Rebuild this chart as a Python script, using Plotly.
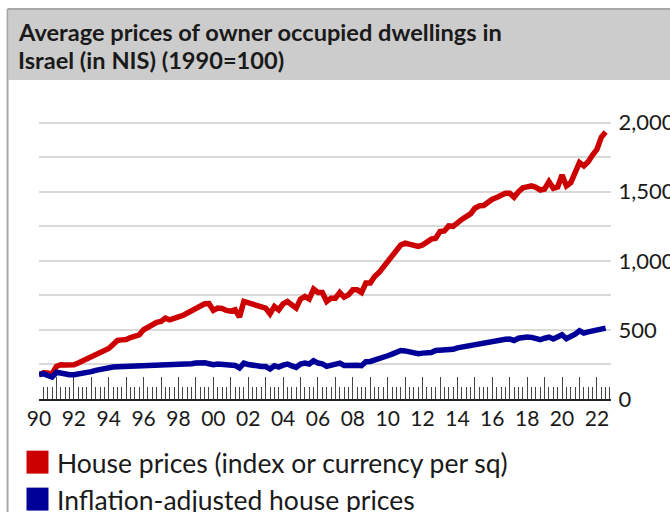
import plotly.graph_objects as go

# ---------------- data (quarterly, 1990Q1 .. 2022Q3) ----------------
start_year = 1990
house_prices = [
    176, 190, 188, 182,      # 1990
    235, 248, 246, 244,      # 1991
    248, 260, 275, 290,      # 1992
    301, 313, 330, 350,      # 1993
    365, 395, 424, 428,      # 1994
    430, 445, 455, 465,      # 1995
    501, 520, 540, 555,      # 1996
    561, 585, 573, 588,      # 1997
    595, 605, 620, 633,      # 1998
    650, 674, 689, 690,      # 1999
    641, 658, 655, 641,      # 2000
    636, 646, 593, 706,      # 2001
    695, 682, 670, 660,      # 2002
    658, 617, 670, 646,      # 2003
    689, 706, 680, 658,      # 2004
    723, 742, 723, 795,      # 2005
    771, 771, 706, 730,      # 2006
    730, 771, 737, 754,      # 2007
    790, 790, 771, 839,      # 2008
    839, 887, 915, 955,      # 2009
    995, 1035, 1070, 1115,   # 2010
    1128, 1121, 1110, 1104,  # 2011
    1114, 1140, 1157, 1164,  # 2012
    1212, 1216, 1253, 1250,  # 2013
    1280, 1300, 1320, 1340,  # 2014
    1381, 1398, 1400, 1425,  # 2015
    1446, 1458, 1477, 1489,  # 2016
    1489, 1460, 1500, 1528,  # 2017
    1535, 1542, 1532, 1513,  # 2018
    1520, 1573, 1525, 1535,  # 2019
    1622, 1542, 1566, 1629,  # 2020
    1711, 1687, 1718, 1766,  # 2021
    1807, 1894, 1932,        # 2022
]
real_prices = [
    176, 183, 170, 159,      # 1990
    193, 185, 173, 175,      # 1991
    176, 180, 188, 193,      # 1992
    198, 207, 215, 220,      # 1993
    224, 231, 233, 234,      # 1994
    236, 236, 236, 238,      # 1995
    243, 245, 247, 248,      # 1996
    248, 248, 248, 250,      # 1997
    253, 250, 248, 255,      # 1998
    260, 265, 262, 255,      # 1999
    248, 253, 248, 243,      # 2000
    243, 243, 224, 260,      # 2001
    250, 243, 240, 236,      # 2002
    236, 217, 241, 231,      # 2003
    245, 253, 240, 229,      # 2004
    253, 260, 253, 277,      # 2005
    260, 255, 236, 245,      # 2006
    248, 260, 243, 245,      # 2007
    248, 245, 241, 270,      # 2008
    272, 280, 289, 305,      # 2009
    313, 325, 337, 351,      # 2010
    348, 341, 332, 328,      # 2011
    332, 335, 337, 351,      # 2012
    351, 355, 358, 360,      # 2013
    370, 376, 386, 392,      # 2014
    400, 403, 405, 415,      # 2015
    424, 427, 429, 432,      # 2016
    434, 424, 440, 446,      # 2017
    448, 446, 440, 429,      # 2018
    440, 448, 434, 455,      # 2019
    465, 436, 448, 470,      # 2020
    494, 477, 486, 494,      # 2021
    506, 510, 513,           # 2022
]
series_names = ["House prices (index or currency per sq)", "Inflation-adjusted house prices"]
series_colors = ["#cc0000", "#000099"]
title_lines = ["Average prices of owner occupied dwellings in", "Israel (in NIS) (1990=100)"]
x_tick_years = list(range(1990, 2023))
x_tick_labels = [f"{y % 100:02d}" if (y - 1990) % 2 == 0 else "" for y in x_tick_years]
y_tick_vals = list(range(0, 2001, 250))
y_tick_labels = [f"{v:,}" if v % 500 == 0 else "" for v in y_tick_vals]

quarters = [start_year + 0.25 * i for i in range(len(house_prices))]
minor_vals = [1990 + 0.25 * i for i in range(0, 132) if i % 4 != 0]

# ---------------- layout geometry ----------------
# the page body margin is removed below, so screen pixel = figure pixel
OFF = 0
W, H = 670, 512
SCR_LEFT, SCR_RIGHT, SCR_TOP, SCR_BOTTOM = 38.5, 611, 110, 399.3
ML = SCR_LEFT - OFF
MR = W - (SCR_RIGHT - OFF)
MT = SCR_TOP - OFF
MB = H - (SCR_BOTTOM - OFF)
PW, PH = W - ML - MR, H - MT - MB
X_RANGE = [1990, 1990 + (SCR_RIGHT - SCR_LEFT) / 17.45]
Y_MAX = 2000 * PH / (SCR_BOTTOM - 122.7)


def px(x):  # screen x -> paper
    return (x - SCR_LEFT) / PW


def py(y):  # screen y -> paper
    return (SCR_BOTTOM - y) / PH


FONT = "Lato, 'Open Sans', sans-serif"

fig = go.Figure()
for vals, name, col in zip([house_prices, real_prices], series_names, series_colors):
    fig.add_trace(go.Scatter(x=quarters, y=vals, name=name, mode="lines",
                             line=dict(color=col, width=5.5), showlegend=False,
                             hoverinfo="skip"))

shapes = [
    # header band
    dict(type="rect", xref="paper", yref="paper", x0=px(8), x1=px(700), y0=py(80), y1=py(9),
         fillcolor="#cccccc", line=dict(width=0), layer="below"),
    dict(type="line", xref="paper", yref="paper", x0=px(7), x1=px(700), y0=py(9), y1=py(9),
         line=dict(color="#a8a8a8", width=2)),
    dict(type="line", xref="paper", yref="paper", x0=px(7), x1=px(7), y0=py(9), y1=py(540),
         line=dict(color="#a8a8a8", width=2)),
]
annotations = []
for line, yc in zip(title_lines, [31.5, 60]):
    annotations.append(dict(text="<b>" + line + "</b>", xref="paper", yref="paper",
                            x=px(15), y=py(yc), xanchor="left", yanchor="middle", align="left",
                            showarrow=False, font=dict(family=FONT, size=23.6, color="#1a1a1a")))
legend_top = [451, 488]
for i, (name, col) in enumerate(zip(series_names, series_colors)):
    t = legend_top[i]
    shapes.append(dict(type="rect", xref="paper", yref="paper", x0=px(26), x1=px(48),
                       y0=py(t + 23), y1=py(t), fillcolor=col, line=dict(width=0)))
    annotations.append(dict(text=name, xref="paper", yref="paper", x=px(55), y=py(t + 12.5),
                            xanchor="left", yanchor="middle", showarrow=False,
                            font=dict(family=FONT, size=26.5, color="#1a1a1a")))

fig.update_layout(
    width=W, height=H, autosize=False,
    margin=dict(l=ML, r=MR, t=MT, b=MB, pad=0, autoexpand=False),
    paper_bgcolor="white", plot_bgcolor="white",
    font=dict(family=FONT, size=20, color="#1a1a1a"),
    shapes=shapes, annotations=annotations,
    showlegend=False,
    xaxis=dict(range=X_RANGE, tickmode="array", tickvals=x_tick_years, ticktext=x_tick_labels,
               ticks="inside", ticklen=22, tickwidth=1, tickcolor="#444",
               showline=True, linecolor="#222", linewidth=1.5, automargin=False,
               showgrid=False, zeroline=False, layer="below traces",
               tickfont=dict(family=FONT, size=21, color="#1a1a1a"),
               minor=dict(tickmode="array", tickvals=minor_vals, ticks="inside", ticklen=12,
                          tickwidth=1, tickcolor="#444", showgrid=False),
               fixedrange=True),
    yaxis=dict(range=[0, Y_MAX], side="right", tickmode="array", tickvals=y_tick_vals,
               ticktext=y_tick_labels, ticks="outside", ticklen=2, tickcolor="rgba(0,0,0,0)",
               showgrid=True, gridcolor="#d9d9d9", automargin=False,
               gridwidth=1.5, zeroline=False, showline=False,
               tickfont=dict(family=FONT, size=22, color="#1a1a1a"), fixedrange=True),
)

fig.write_html(
    "out.html",
    config={"displayModeBar": False},
    post_script="document.body.style.margin='0';"
                "document.documentElement.style.overflow='hidden';"
                "document.body.style.overflow='hidden';",
)
